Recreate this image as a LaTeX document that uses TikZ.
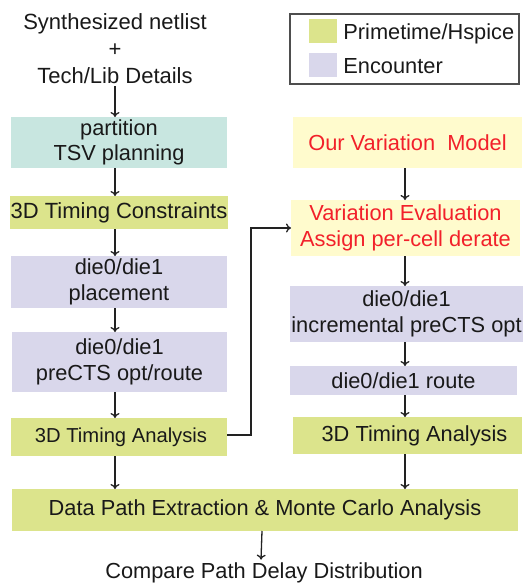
\documentclass[tikz,border=0pt]{standalone}
\usepackage{fontspec}
\setmainfont{Liberation Sans}
\usetikzlibrary{arrows.meta,calc}
\definecolor{pgreen}{HTML}{DCE48C}
\definecolor{pteal}{HTML}{C8E6E0}
\definecolor{plav}{HTML}{D9D7EB}
\definecolor{pyel}{HTML}{FFFBCD}
\definecolor{pred}{HTML}{F2202A}
\definecolor{pline}{HTML}{222222}
\begin{document}
\begin{tikzpicture}[x=1pt,y=-1pt,
  box/.style={inner sep=0pt, outer sep=0pt, align=center, text=black!90,
    font=\fontsize{21.8}{25.5}\selectfont},
  gbox/.style={box, fill=pgreen},
  tbox/.style={box, fill=pteal},
  lbox/.style={box, fill=plav},
  ybox/.style={box, fill=pyel, text=pred},
  arr/.style={draw=pline, line width=1.3pt, -{To[length=5pt,width=9pt,line width=1.3pt]}},
  plain/.style={inner sep=0pt, align=center, text=black!90}]
\useasboundingbox (0,0) rectangle (528,584);
\coordinate (colL) at (115,0);
\coordinate (colR) at (405,0);
% left column
\node[plain, font=\fontsize{22}{27}\selectfont] (src) at (115,49) {Synthesized netlist\\+\\Tech/Lib Details};
\node[tbox, minimum width=216pt, minimum height=51pt] (part) at (119,142.5) {partition\\TSV planning};
\node[gbox, minimum width=218pt, minimum height=33pt, font=\fontsize{22}{25}\selectfont] (tc) at (119,212.5) {3D Timing Constraints};
\node[lbox, minimum width=216pt, minimum height=52pt] (place) at (119,282) {die0/die1\\placement};
\node[lbox, minimum width=215pt, minimum height=60pt] (pre) at (119.5,362) {die0/die1\\preCTS opt/route};
\node[gbox, minimum width=216pt, minimum height=38pt, font=\fontsize{20.2}{24}\selectfont] (lta) at (119,437) {\hspace*{4pt}3D Timing Analysis};
% right column
\node[ybox, minimum width=229pt, minimum height=51pt] (ovm) at (407.5,142.5) {Our Variation\ \ Model};
\node[ybox, minimum width=229pt, minimum height=56pt] (ve) at (405.5,228) {Variation Evaluation\\Assign per-cell derate};
\node[lbox, minimum width=233pt, minimum height=56pt] (inc) at (406.5,314) {die0/die1\\incremental preCTS opt};
\node[lbox, minimum width=227pt, minimum height=29pt] (route) at (403.5,380.5) {die0/die1 route};
\node[gbox, minimum width=229pt, minimum height=37pt] (rta) at (407.5,435.5) {\hspace*{14pt}3D Timing Analysis};
% bottom
\node[gbox, minimum width=506pt, minimum height=42pt] (dp) at (265,510) {Data Path Extraction \& Monte Carlo Analysis};
\node[plain, font=\fontsize{21.8}{24}\selectfont] (cmp) at (264,573) {Compare Path Delay Distribution};
% legend
\node[draw=pline!80, line width=1.2pt, minimum width=229pt, minimum height=70pt, inner sep=0pt] (leg) at (404.5,49) {};
\node[fill=pgreen, minimum width=28pt, minimum height=24pt, inner sep=0pt] (sq1) at (323,31) {};
\node[fill=plav, minimum width=28pt, minimum height=24pt, inner sep=0pt] (sq2) at (323,65) {};
\node[plain, anchor=west, font=\fontsize{21.8}{24}\selectfont] (lt1) at ($(sq1.east)+(6,3)$) {Primetime/Hspice};
\node[plain, anchor=west, font=\fontsize{21.8}{24}\selectfont] (lt2) at ($(sq2.east)+(6,1)$) {Encounter};
% arrows left
\draw[arr] ($(src.south -| colL)+(0,2)$) -- (part.north -| colL);
\draw[arr] (part.south -| colL) -- (tc.north -| colL);
\draw[arr] (tc.south -| colL) -- (place.north -| colL);
\draw[arr] (place.south -| colL) -- (pre.north -| colL);
\draw[arr] (pre.south -| colL) -- (lta.north -| colL);
\draw[arr] (lta.south -| colL) -- (dp.north -| colL);
% arrows right
\draw[arr] (ovm.south -| colR) -- (ve.north -| colR);
\draw[arr] (ve.south -| colR) -- (inc.north -| colR);
\draw[arr] (inc.south -| colR) -- (route.north -| colR);
\draw[arr] (route.south -| colR) -- (rta.north -| colR);
\draw[arr] (rta.south -| colR) -- (dp.north -| colR);
% feedback connector
\coordinate (bend) at (251,0);
\draw[arr] ($(lta.east)+(0,-2)$) -| (bend |- ve.west) -- (ve.west);
% bottom arrow
\draw[arr] ($(dp.south)+(-3,0)$) -- ($(cmp.north)+(-3,-3)$);
\end{tikzpicture}
\end{document}
